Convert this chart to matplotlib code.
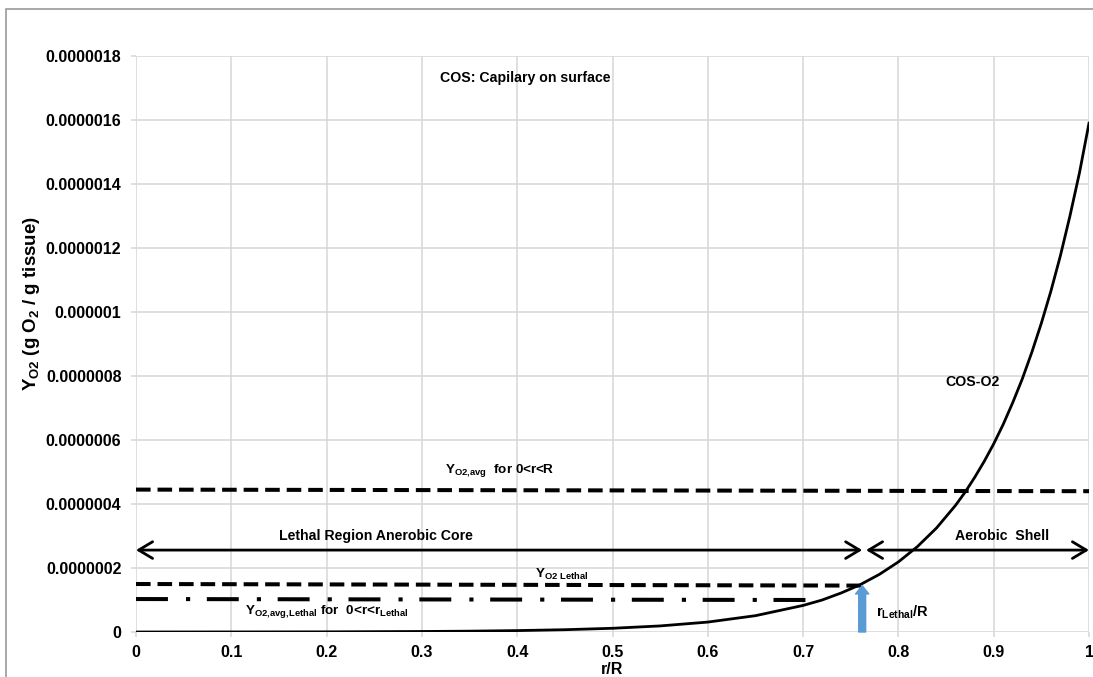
import matplotlib
matplotlib.use("Agg")
import matplotlib.pyplot as plt
from matplotlib.patches import Rectangle

# Oxygen concentration profile, capillary on surface (COS)
r_over_R = [0.0, 0.1, 0.2, 0.3, 0.35, 0.4, 0.45, 0.5, 0.55, 0.6, 0.65, 0.7,
            0.72, 0.74, 0.76, 0.78, 0.80, 0.82, 0.84, 0.86, 0.87, 0.88, 0.89,
            0.90, 0.91, 0.92, 0.93, 0.94, 0.95, 0.96, 0.97, 0.98, 0.99, 1.0]
y_cos_o2 = [0.0, 2e-10, 5e-10, 1.6e-9, 2.6e-9, 4.4e-9, 7.2e-9, 1.16e-8, 1.9e-8,
            3.1e-8, 5.1e-8, 8.3e-8, 1.0e-7, 1.22e-7, 1.48e-7, 1.80e-7, 2.19e-7,
            2.67e-7, 3.25e-7, 3.96e-7, 4.37e-7, 4.83e-7, 5.33e-7, 5.88e-7,
            6.49e-7, 7.17e-7, 7.91e-7, 8.74e-7, 9.65e-7, 1.065e-6, 1.176e-6,
            1.30e-6, 1.435e-6, 1.59e-6]

# Reference levels
avg_x = [0.0, 1.0]
avg_y = [4.45e-7, 4.40e-7]          # Y_O2,avg for 0<r<R
lethal_x = [0.0, 0.762]
lethal_y = [1.50e-7, 1.45e-7]       # Y_O2 Lethal
avg_lethal_x = [0.0, 0.72]
avg_lethal_y = [1.03e-7, 1.00e-7]   # Y_O2,avg,Lethal for 0<r<r_Lethal

r_lethal = 0.762
region_arrow_y = 2.56e-7

x_ticks = [0, 0.1, 0.2, 0.3, 0.4, 0.5, 0.6, 0.7, 0.8, 0.9, 1.0]
x_tick_labels = ["0", "0.1", "0.2", "0.3", "0.4", "0.5", "0.6", "0.7", "0.8", "0.9", "1"]
y_ticks = [0, 2e-7, 4e-7, 6e-7, 8e-7, 1e-6, 1.2e-6, 1.4e-6, 1.6e-6, 1.8e-6]
y_tick_labels = ["0", "0.0000002", "0.0000004", "0.0000006", "0.0000008",
                 "0.000001", "0.0000012", "0.0000014", "0.0000016", "0.0000018"]

plt.rcParams["font.family"] = ["Liberation Sans", "DejaVu Sans"]
plt.rcParams["font.weight"] = "bold"
plt.rcParams["axes.labelweight"] = "bold"
plt.rcParams["mathtext.fontset"] = "custom"
plt.rcParams["mathtext.rm"] = "Liberation Sans:bold"
plt.rcParams["mathtext.it"] = "Liberation Sans:bold"
plt.rcParams["mathtext.bf"] = "Liberation Sans:bold"
plt.rcParams["lines.scale_dashes"] = False

W, H = 1093, 677
fig = plt.figure(figsize=(W / 100, H / 100), dpi=100)
ax = fig.add_axes([136 / W, 1 - 632 / H, (1089 - 136) / W, (632 - 56) / H])

# chart frame
fig.patches.append(Rectangle((6 / W, -0.1), 1.2, 1 - 9 / H + 0.1, transform=fig.transFigure,
                             fill=False, edgecolor="#9a9a9a", linewidth=1.2))

ax.set_xlim(0, 1)
ax.set_ylim(0, 1.8e-6)
ax.set_xticks(x_ticks)
ax.set_xticklabels(x_tick_labels)
ax.set_yticks(y_ticks)
ax.set_yticklabels(y_tick_labels)
ax.tick_params(axis="both", length=3.5, width=1.2, color="#d9d9d9",
               labelsize=11.5, labelcolor="black")
ax.tick_params(axis="y", pad=7)
ax.tick_params(axis="x", pad=6)
ax.grid(True, color="#d9d9d9", linewidth=1.2)
ax.set_axisbelow(True)
for s in ax.spines.values():
    s.set_visible(False)

ax.plot(r_over_R, y_cos_o2, color="black", linewidth=2.0, zorder=5)

l1, = ax.plot(avg_x, avg_y, color="black", linewidth=2.9)
l1.set_dashes([10.5, 5.0])
l1.set_dash_capstyle("butt")
l2, = ax.plot(lethal_x, lethal_y, color="black", linewidth=2.9)
l2.set_dashes([10.5, 5.0])
l2.set_dash_capstyle("butt")
l3, = ax.plot(avg_lethal_x, avg_lethal_y, color="black", linewidth=2.9)
l3.set_dashes([23, 13, 3, 12])
l3.set_dash_capstyle("butt")

arrow_kw = dict(arrowstyle="<->,head_length=0.5,head_width=0.3", color="black",
                lw=2.0, shrinkA=0, shrinkB=0, mutation_scale=20)
ax.annotate("", xy=(0.0, region_arrow_y), xytext=(r_lethal, region_arrow_y),
            arrowprops=arrow_kw, annotation_clip=False)
ax.annotate("", xy=(r_lethal + 0.004, region_arrow_y), xytext=(1.0, region_arrow_y),
            arrowprops=arrow_kw, annotation_clip=False)

ax.annotate("", xy=(r_lethal, lethal_y[1]), xytext=(r_lethal, 0),
            arrowprops=dict(arrowstyle="simple,head_length=0.6,head_width=0.95,tail_width=0.5",
                            color="#5b9bd5", shrinkA=0, shrinkB=0, mutation_scale=10),
            zorder=6)

fs = 10.2
fsm = 9.7
ax.text(0.319, 1.73e-6, "COS: Capilary on surface", fontsize=fs, va="center", ha="left")
ax.text(0.324, 5.06e-7, r"$\mathrm{Y}_{\mathrm{O2{,}avg}}$  for 0<r<R", fontsize=fsm,
        va="center", ha="left")
ax.text(0.252, 3.0e-7, "Lethal Region Anerobic Core", fontsize=fs, va="center", ha="center")
ax.text(0.909, 3.0e-7, "Aerobic  Shell", fontsize=fs, va="center", ha="center")
ax.text(0.419, 1.81e-7, r"$\mathrm{Y}_{\mathrm{O2\ Lethal}}$", fontsize=fsm, va="center", ha="left")
ax.text(0.114, 0.64e-7,
        r"$\mathrm{Y}_{\mathrm{O2{,}avg{,}Lethal}}$ for  0<r<r$_{\mathrm{Lethal}}$",
        fontsize=fsm, va="center", ha="left")
ax.text(0.776, 0.63e-7, r"r$_{\mathrm{Lethal}}$/R", fontsize=10.5, va="center", ha="left")
ax.text(0.849, 7.8e-7, "COS-O2", fontsize=fs, va="center", ha="left")

fig.text(612 / W, 1 - 670 / H, "r/R", fontsize=11.5, ha="center", va="center")
fig.text(32 / W, 1 - 303 / H, r"Y$_{\mathrm{O2}}$ (g O$_{\mathrm{2}}$ / g tissue)",
         fontsize=13.5, rotation=90, ha="center", va="center")

fig.savefig("out.png", dpi=100)
